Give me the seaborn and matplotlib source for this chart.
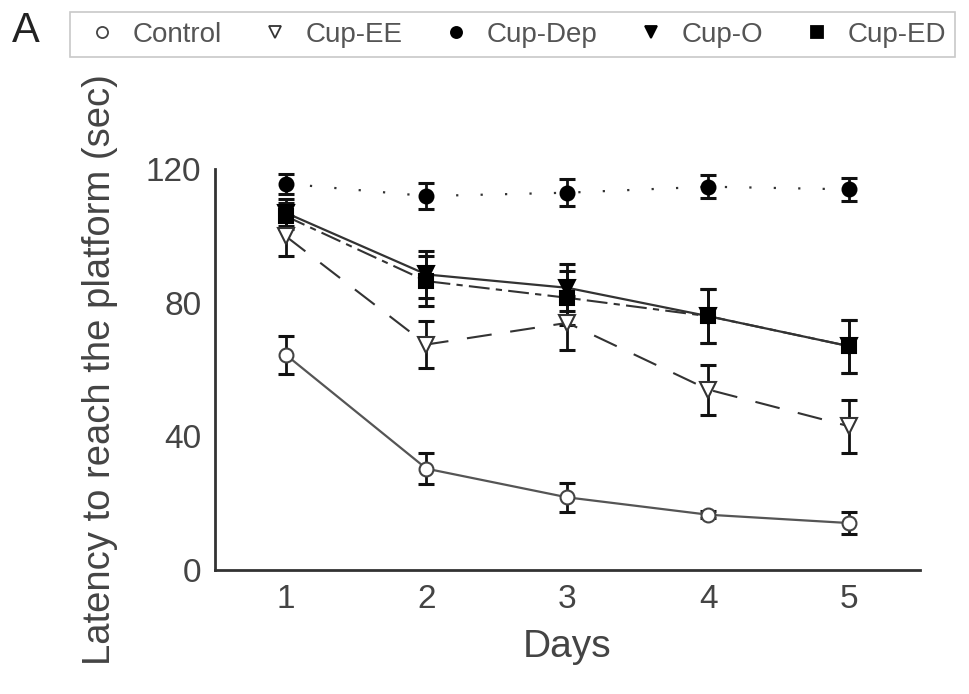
import pandas as pd
import numpy as np
import matplotlib.pyplot as plt
import seaborn as sns
from matplotlib.lines import Line2D

days = [1, 2, 3, 4, 5]
groups = ['Control', 'Cup-EE', 'Cup-Dep', 'Cup-O', 'Cup-ED']

control_mean = [64.5, 30.3, 21.7, 16.5, 14.0]
control_err = [5.7, 4.7, 4.3, 1.0, 3.3]
ee_mean = [100.0, 67.5, 74.0, 54.0, 43.0]
ee_err = [6.0, 7.0, 8.0, 7.5, 8.0]
dep_mean = [115.7, 112.0, 113.0, 114.8, 114.0]
dep_err = [3.0, 4.0, 4.0, 3.5, 3.5]
o_mean = [107.0, 88.5, 84.5, 76.0, 67.0]
o_err = [4.0, 7.0, 7.0, 8.0, 8.0]
ed_mean = [106.0, 86.5, 81.5, 76.0, 67.0]
ed_err = [4.0, 7.5, 8.0, 8.0, 8.0]

means = [control_mean, ee_mean, dep_mean, o_mean, ed_mean]
errs = [control_err, ee_err, dep_err, o_err, ed_err]

# 线型/标记
styles = {
    'Control': dict(color='#555555', ls='-', marker='o', mfc='white', mec='#444444', lw=1.6, ms=10),
    'Cup-EE': dict(color='#333333', ls=(0, (12, 9)), marker='v', mfc='white', mec='#333333', lw=1.5, ms=11),
    'Cup-Dep': dict(color='#333333', ls=(0, (1, 10)), marker='o', mfc='black', mec='black', lw=1.6, ms=10),
    'Cup-O': dict(color='#333333', ls='-', marker='v', mfc='black', mec='black', lw=1.6, ms=11),
    'Cup-ED': dict(color='#333333', ls=(0, (10, 3, 3, 3)), marker='s', mfc='black', mec='black', lw=1.5, ms=10),
}

sns.set_style('white')
plt.rcParams['font.family'] = ['Liberation Sans', 'DejaVu Sans']

fig = plt.figure(figsize=(9.69, 6.94), dpi=100)
ax = fig.add_axes([0.222, 0.179, 0.727, 0.577])

for g, m, e in zip(groups, means, errs):
    st = styles[g]
    df = pd.DataFrame({'Days': days, 'Latency': m})
    ax.errorbar(days, m, yerr=e, fmt='none', ecolor='#111111', elinewidth=2.0,
                capsize=6, capthick=2.2, zorder=2, clip_on=False)
    sns.lineplot(data=df, x='Days', y='Latency', ax=ax, color=st['color'],
                 linestyle=st['ls'], linewidth=st['lw'], marker=st['marker'],
                 markersize=st['ms'], markerfacecolor=st['mfc'],
                 markeredgecolor=st['mec'], markeredgewidth=1.5,
                 errorbar=None, zorder=3, clip_on=False)

ax.set_xlim(0.5, 5.5)
ax.set_ylim(0, 120)
ax.set_xticks(days)
ax.set_yticks([0, 40, 80, 120])
ax.tick_params(direction='in', length=6, width=1, color='#cccccc',
               labelsize=24, labelcolor='#444444', pad=10)
for s in ['top', 'right']:
    ax.spines[s].set_visible(False)
for s in ['left', 'bottom']:
    ax.spines[s].set_color('#333333')
    ax.spines[s].set_linewidth(2.0)
ax.set_xlabel('Days', fontsize=28, color='#444444', labelpad=10)
ax.set_ylabel('Latency to reach the platform (sec)', fontsize=27.5, color='#444444', labelpad=20)

handles = [Line2D([], [], ls='none', marker=styles[g]['marker'], markersize=styles[g]['ms'] - 2,
                  markerfacecolor=styles[g]['mfc'], markeredgecolor=styles[g]['mec'],
                  markeredgewidth=1.3) for g in groups]
leg = fig.legend(handles, groups, loc='upper left', bbox_to_anchor=(0.072, 0.9, 0.914, 0.083),
                 mode='expand', ncol=5, fontsize=20, frameon=True, fancybox=False,
                 edgecolor='#bbbbbb', handletextpad=0.3, handlelength=1.6,
                 borderaxespad=0, borderpad=0.35)
for t in leg.get_texts():
    t.set_color('#555555')
leg.get_frame().set_linewidth(1.2)

fig.text(0.012, 0.955, 'A', fontsize=30, color='#222222', va='center')

plt.savefig('out.png', dpi=100)
